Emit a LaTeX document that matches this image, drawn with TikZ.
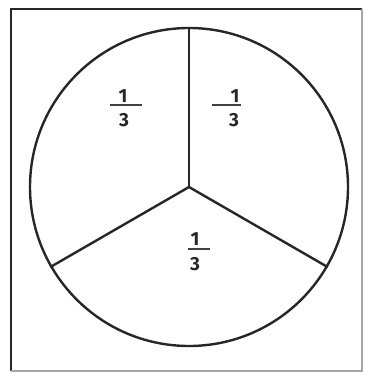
\documentclass[tikz,border=0pt]{standalone}
\usepackage{fontspec}
\setmainfont{Fira Sans}
\begin{document}
\begin{tikzpicture}[x=1pt,y=-1pt,
  outline/.style={line width=2.4pt,draw=black!85},
  digit/.style={inner sep=0pt,font=\fontsize{19}{22}\selectfont\bfseries,text=black!85},
  fracbar/.style={line width=1.4pt,draw=black!75}]
\useasboundingbox (0,0) rectangle (364,374);
% frame
\draw[line width=2.6pt,black!85] (11,371) -- (11,9) -- (362,9);
\draw[line width=1.6pt,black!35] (362,9) -- (362,371) -- (11,371);
% circle and spokes
\coordinate (c) at (189,187);
\node[circle,outline,minimum size=318pt,inner sep=0pt] (pie) at (c) {};
\draw[outline] (c) -- (pie.90);
\draw[outline] (c) -- (pie.210);
\draw[outline] (c) -- (pie.-30);
% left fraction
\node[digit] (ln) at (123,96) {1};
\node[digit] (ld) at (124,120) {3};
\coordinate (lb1) at (110,105); \coordinate (lb2) at (142,105);
\draw[fracbar] (lb1) -- (lb2);
% right fraction
\node[digit] (rn) at (235,96) {1};
\node[digit] (rd) at (234,120) {3};
\coordinate (rb1) at (212,105); \coordinate (rb2) at (241,105);
\draw[fracbar] (rb1) -- (rb2);
% bottom fraction
\node[digit] (bn) at (195,239) {1};
\node[digit] (bd) at (195,264) {3};
\coordinate (bb1) at (188,249); \coordinate (bb2) at (210,249);
\draw[fracbar] (bb1) -- (bb2);
\end{tikzpicture}
\end{document}
